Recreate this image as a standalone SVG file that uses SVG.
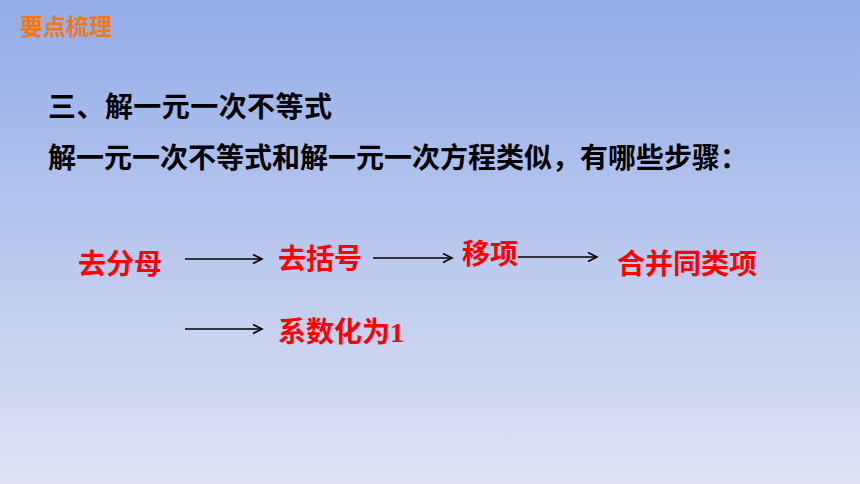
<svg xmlns="http://www.w3.org/2000/svg" width="860" height="484" viewBox="0 0 860 484">
<defs>
<linearGradient id="bg" x1="0" y1="0" x2="0" y2="1">
<stop offset="0" stop-color="#93ace8"/>
<stop offset="1" stop-color="#dfe3f4"/>
</linearGradient>
<marker id="ah" markerWidth="12" markerHeight="12" refX="10" refY="5" orient="auto" markerUnits="userSpaceOnUse">
<path d="M1,0.5 L10,5 L1,9.5" fill="none" stroke="#000" stroke-width="1.6"/>
</marker>
<style>
.t{font-family:"Noto Sans CJK SC","Noto Sans",sans-serif;font-weight:bold;}
.h{fill:#000;font-size:28px;}
.r{fill:#ff0000;font-size:28px;}
.c{stroke:#000;stroke-width:1.6;fill:none;marker-end:url(#ah);}
</style>
</defs>
<rect width="860" height="484" fill="url(#bg)"/>
<text class="t" x="20" y="35" font-size="23" fill="#f07818">要点梳理</text>
<text class="t h" x="48" y="117" textLength="284" lengthAdjust="spacing">三、解一元一次不等式</text>
<text class="t h" x="48" y="168" textLength="700" lengthAdjust="spacing">解一元一次不等式和解一元一次方程类似，有哪些步骤：</text>
<g id="n1"><text class="t r" x="78" y="274">去分母</text></g>
<g id="n2"><text class="t r" x="278" y="269">去括号</text></g>
<g id="n3"><text class="t r" x="462" y="264">移项</text></g>
<g id="n4"><text class="t r" x="617" y="274">合并同类项</text></g>
<g id="n5"><text class="t r" x="278" y="342">系数化为<tspan font-family="Liberation Serif,serif">1</tspan></text></g>
<g id="connectors">
<line class="c" x1="185" y1="259" x2="262" y2="259"/>
<line class="c" x1="373" y1="258" x2="452" y2="258"/>
<line class="c" x1="518" y1="257" x2="597" y2="257"/>
<line class="c" x1="185" y1="329" x2="262" y2="329"/>
</g>
</svg>
